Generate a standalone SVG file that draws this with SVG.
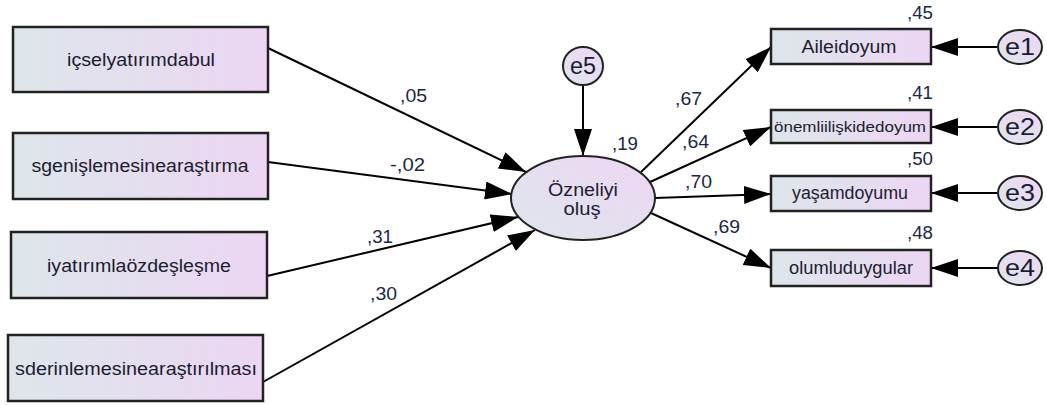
<svg xmlns="http://www.w3.org/2000/svg" width="1047" height="405" viewBox="0 0 1047 405">
<defs>
<linearGradient id="gb" x1="0" y1="0" x2="1" y2="0">
<stop offset="0" stop-color="#dde6ea"/>
<stop offset="1" stop-color="#ecd6f3"/>
</linearGradient>
<linearGradient id="ge" x1="0" y1="1" x2="1" y2="0">
<stop offset="0" stop-color="#dde6ec"/>
<stop offset="1" stop-color="#eed6f3"/>
</linearGradient>
<marker id="ah" markerUnits="userSpaceOnUse" markerWidth="27" markerHeight="18" refX="27" refY="9" orient="auto" viewBox="0 0 27 18">
<path d="M0,0 L27,9 L0,18 z" fill="#000"/>
</marker>
<style>
.box{fill:url(#gb);stroke:#222;stroke-width:2.5}
.ell{fill:url(#ge);stroke:#222;stroke-width:2}
.err{fill:url(#ge);stroke:#222;stroke-width:2}
.ln{stroke:#000;stroke-width:2;fill:none;marker-end:url(#ah)}
.t{font-family:"Liberation Sans",Arial,sans-serif;font-size:17.5px;fill:#1c1c30;text-anchor:middle}
.tr{font-family:"Liberation Sans",Arial,sans-serif;font-size:15px;fill:#1c1c30;text-anchor:middle}
.te{font-family:"Liberation Sans",Arial,sans-serif;font-size:23px;fill:#1c1c30;text-anchor:middle}
.n{font-family:"Liberation Sans",Arial,sans-serif;font-size:17.5px;fill:#1a2846}
</style>
</defs>
<rect width="1047" height="405" fill="#fff"/>

<g id="connectors">
<path class="ln" d="M268,48 L526,172"/>
<path class="ln" d="M268,162 L512,194"/>
<path class="ln" d="M267,276 L518,217"/>
<path class="ln" d="M263,382 L535,230"/>
<path class="ln" d="M583,85 L583,156"/>
<path class="ln" d="M641,172 L771,47"/>
<path class="ln" d="M650,182 L771,127"/>
<path class="ln" d="M655,198 L771,194"/>
<path class="ln" d="M651,213 L771,268"/>
<path class="ln" d="M998,47 L931,47"/>
<path class="ln" d="M998,127 L931,127"/>
<path class="ln" d="M998,193 L931,193"/>
<path class="ln" d="M998,268 L931,268"/>
</g>

<g id="labels">
<text class="n" x="400" y="102" textLength="27" lengthAdjust="spacingAndGlyphs">,05</text>
<text class="n" x="390" y="171" textLength="35" lengthAdjust="spacingAndGlyphs">-,02</text>
<text class="n" x="367" y="243" textLength="26" lengthAdjust="spacingAndGlyphs">,31</text>
<text class="n" x="370" y="300" textLength="27" lengthAdjust="spacingAndGlyphs">,30</text>
<text class="n" x="612" y="150" textLength="26" lengthAdjust="spacingAndGlyphs">,19</text>
<text class="n" x="675" y="105" textLength="27" lengthAdjust="spacingAndGlyphs">,67</text>
<text class="n" x="682" y="148" textLength="27" lengthAdjust="spacingAndGlyphs">,64</text>
<text class="n" x="685" y="188" textLength="27" lengthAdjust="spacingAndGlyphs">,70</text>
<text class="n" x="713" y="233" textLength="27" lengthAdjust="spacingAndGlyphs">,69</text>
<text class="n" x="907" y="19" textLength="26" lengthAdjust="spacingAndGlyphs">,45</text>
<text class="n" x="907" y="99" textLength="26" lengthAdjust="spacingAndGlyphs">,41</text>
<text class="n" x="907" y="165" textLength="26" lengthAdjust="spacingAndGlyphs">,50</text>
<text class="n" x="907" y="239" textLength="26" lengthAdjust="spacingAndGlyphs">,48</text>
</g>

<g id="n-icsel">
<rect class="box" x="13" y="27" width="255" height="65"/>
<text class="t" x="141" y="66" textLength="148" lengthAdjust="spacingAndGlyphs">içselyatırımdabul</text>
</g>
<g id="n-sgenis">
<rect class="box" x="13" y="133" width="255" height="66"/>
<text class="t" x="140" y="172" textLength="217" lengthAdjust="spacingAndGlyphs">sgenişlemesinearaştırma</text>
</g>
<g id="n-iyatirim">
<rect class="box" x="11" y="232" width="256" height="66"/>
<text class="t" x="139" y="272" textLength="184" lengthAdjust="spacingAndGlyphs">iyatırımlaözdeşleşme</text>
</g>
<g id="n-sderin">
<rect class="box" x="8" y="335" width="255" height="66"/>
<text class="t" x="136" y="375" textLength="242" lengthAdjust="spacingAndGlyphs">sderinlemesinearaştırılması</text>
</g>

<g id="n-oznel">
<ellipse class="ell" cx="583" cy="198" rx="72" ry="42"/>
<text class="t" x="583" y="196" textLength="70" lengthAdjust="spacingAndGlyphs">Özneliyi</text>
<text class="t" x="582" y="215" textLength="37" lengthAdjust="spacingAndGlyphs">oluş</text>
</g>
<g id="n-e5">
<ellipse class="err" cx="583" cy="66" rx="20" ry="19"/>
<text class="te" x="583" y="74" textLength="26" lengthAdjust="spacingAndGlyphs">e5</text>
</g>

<g id="n-aile">
<rect class="box" x="771" y="29" width="160" height="35"/>
<text class="t" x="849" y="53" textLength="95" lengthAdjust="spacingAndGlyphs">Aileidoyum</text>
</g>
<g id="n-onemli">
<rect class="box" x="771" y="110" width="160" height="33"/>
<text class="tr" x="850" y="132" textLength="152" lengthAdjust="spacingAndGlyphs">önemliilişkidedoyum</text>
</g>
<g id="n-yasam">
<rect class="box" x="771" y="176" width="160" height="35"/>
<text class="t" x="850" y="199" textLength="116" lengthAdjust="spacingAndGlyphs">yaşamdoyumu</text>
</g>
<g id="n-olumlu">
<rect class="box" x="771" y="250" width="160" height="36"/>
<text class="t" x="851" y="274" textLength="124" lengthAdjust="spacingAndGlyphs">olumluduygular</text>
</g>

<g id="n-e1">
<ellipse class="err" cx="1020" cy="47" rx="22" ry="17"/>
<text class="te" x="1020" y="55" textLength="30" lengthAdjust="spacingAndGlyphs">e1</text>
</g>
<g id="n-e2">
<ellipse class="err" cx="1020" cy="127" rx="22" ry="17"/>
<text class="te" x="1020" y="135" textLength="30" lengthAdjust="spacingAndGlyphs">e2</text>
</g>
<g id="n-e3">
<ellipse class="err" cx="1020" cy="193" rx="22" ry="17"/>
<text class="te" x="1020" y="201" textLength="30" lengthAdjust="spacingAndGlyphs">e3</text>
</g>
<g id="n-e4">
<ellipse class="err" cx="1020" cy="268" rx="22" ry="17"/>
<text class="te" x="1020" y="276" textLength="30" lengthAdjust="spacingAndGlyphs">e4</text>
</g>
</svg>
